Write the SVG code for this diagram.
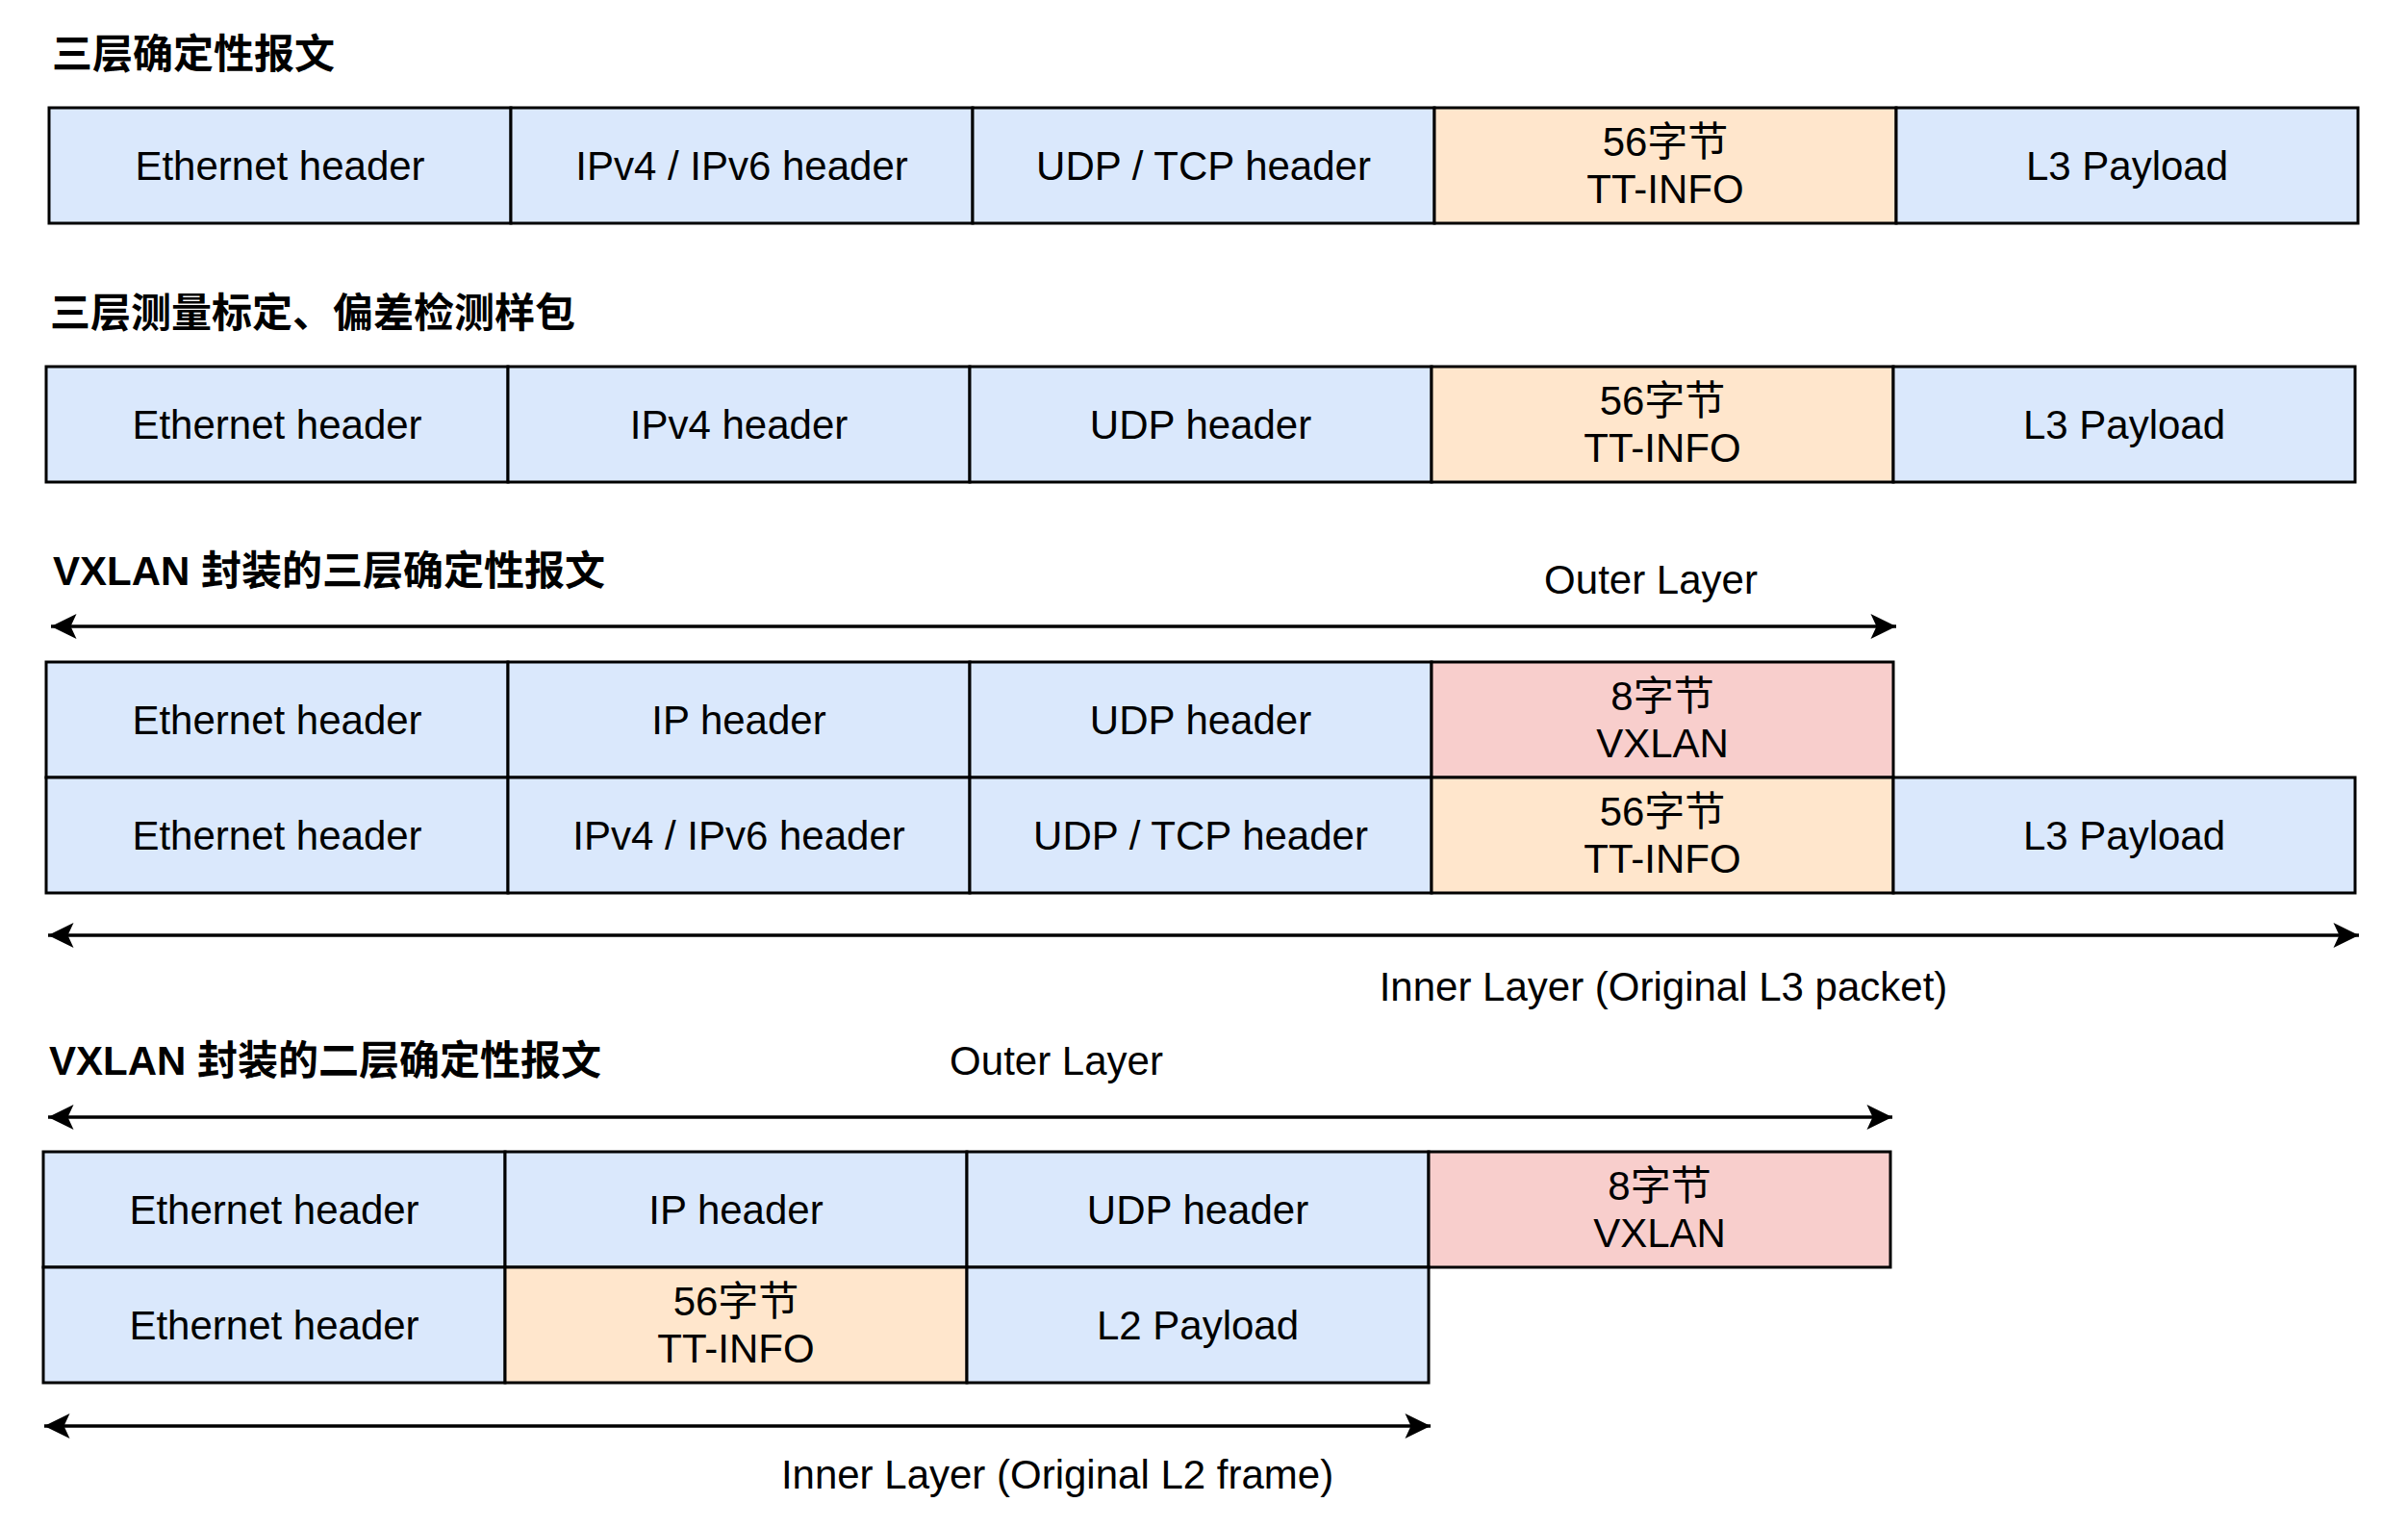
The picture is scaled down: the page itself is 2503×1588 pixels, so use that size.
<svg xmlns="http://www.w3.org/2000/svg" width="2503" height="1588" viewBox="0 0 2503 1588">
<style>
.t{font-family:"Liberation Sans","Noto Sans CJK SC",sans-serif;font-size:42px;fill:#000;text-anchor:middle}
.h{font-family:"Liberation Sans","Noto Sans CJK SC",sans-serif;font-size:42px;font-weight:bold;fill:#000}
.b{fill:#dae8fc;stroke:#000;stroke-width:3}
.o{fill:#ffe6cc;stroke:#000;stroke-width:3}
.p{fill:#f8cecc;stroke:#000;stroke-width:3}
.ln{stroke:#000;stroke-width:3.5;fill:none;marker-start:url(#ah);marker-end:url(#ah)}
</style>
<defs>
<marker id="ah" markerUnits="userSpaceOnUse" viewBox="-28 -14 30 28" refX="0" refY="0" markerWidth="30" markerHeight="28" orient="auto-start-reverse">
<path d="M0,0 L-26.5,-13 L-20.5,0 L-26.5,13 Z" fill="#000"/>
</marker>
</defs>
<rect width="2503" height="1588" fill="#fff"/>

<g id="titles">
<text class="h" x="54" y="71">三层确定性报文</text>
<text class="h" x="52" y="340">三层测量标定、偏差检测样包</text>
<text class="h" x="55" y="608">VXLAN 封装的三层确定性报文</text>
<text class="h" x="51" y="1117">VXLAN 封装的二层确定性报文</text>
</g>

<g id="packet1">
<g id="p1-eth"><rect class="b" x="51" y="112" width="480" height="120"/><text class="t" x="291" y="187">Ethernet header</text></g>
<g id="p1-ip"><rect class="b" x="531" y="112" width="480" height="120"/><text class="t" x="771" y="187">IPv4 / IPv6 header</text></g>
<g id="p1-udp"><rect class="b" x="1011" y="112" width="480" height="120"/><text class="t" x="1251" y="187">UDP / TCP header</text></g>
<g id="p1-tt"><rect class="o" x="1491" y="112" width="480" height="120"/><text class="t" x="1731" y="162">56字节</text><text class="t" x="1731" y="211">TT-INFO</text></g>
<g id="p1-pl"><rect class="b" x="1971" y="112" width="480" height="120"/><text class="t" x="2211" y="187">L3 Payload</text></g>
</g>

<g id="packet2">
<g id="p2-eth"><rect class="b" x="48" y="381" width="480" height="120"/><text class="t" x="288" y="456">Ethernet header</text></g>
<g id="p2-ip"><rect class="b" x="528" y="381" width="480" height="120"/><text class="t" x="768" y="456">IPv4 header</text></g>
<g id="p2-udp"><rect class="b" x="1008" y="381" width="480" height="120"/><text class="t" x="1248" y="456">UDP header</text></g>
<g id="p2-tt"><rect class="o" x="1488" y="381" width="480" height="120"/><text class="t" x="1728" y="431">56字节</text><text class="t" x="1728" y="480">TT-INFO</text></g>
<g id="p2-pl"><rect class="b" x="1968" y="381" width="480" height="120"/><text class="t" x="2208" y="456">L3 Payload</text></g>
</g>

<g id="packet3">
<g id="p3-oeth"><rect class="b" x="48" y="688" width="480" height="120"/><text class="t" x="288" y="763">Ethernet header</text></g>
<g id="p3-oip"><rect class="b" x="528" y="688" width="480" height="120"/><text class="t" x="768" y="763">IP header</text></g>
<g id="p3-oudp"><rect class="b" x="1008" y="688" width="480" height="120"/><text class="t" x="1248" y="763">UDP header</text></g>
<g id="p3-vx"><rect class="p" x="1488" y="688" width="480" height="120"/><text class="t" x="1728" y="738">8字节</text><text class="t" x="1728" y="787">VXLAN</text></g>
<g id="p3-eth"><rect class="b" x="48" y="808" width="480" height="120"/><text class="t" x="288" y="883">Ethernet header</text></g>
<g id="p3-ip"><rect class="b" x="528" y="808" width="480" height="120"/><text class="t" x="768" y="883">IPv4 / IPv6 header</text></g>
<g id="p3-udp"><rect class="b" x="1008" y="808" width="480" height="120"/><text class="t" x="1248" y="883">UDP / TCP header</text></g>
<g id="p3-tt"><rect class="o" x="1488" y="808" width="480" height="120"/><text class="t" x="1728" y="858">56字节</text><text class="t" x="1728" y="907">TT-INFO</text></g>
<g id="p3-pl"><rect class="b" x="1968" y="808" width="480" height="120"/><text class="t" x="2208" y="883">L3 Payload</text></g>
</g>

<g id="packet4">
<g id="p4-oeth"><rect class="b" x="45" y="1197" width="480" height="120"/><text class="t" x="285" y="1272">Ethernet header</text></g>
<g id="p4-oip"><rect class="b" x="525" y="1197" width="480" height="120"/><text class="t" x="765" y="1272">IP header</text></g>
<g id="p4-oudp"><rect class="b" x="1005" y="1197" width="480" height="120"/><text class="t" x="1245" y="1272">UDP header</text></g>
<g id="p4-vx"><rect class="p" x="1485" y="1197" width="480" height="120"/><text class="t" x="1725" y="1247">8字节</text><text class="t" x="1725" y="1296">VXLAN</text></g>
<g id="p4-eth"><rect class="b" x="45" y="1317" width="480" height="120"/><text class="t" x="285" y="1392">Ethernet header</text></g>
<g id="p4-tt"><rect class="o" x="525" y="1317" width="480" height="120"/><text class="t" x="765" y="1367">56字节</text><text class="t" x="765" y="1416">TT-INFO</text></g>
<g id="p4-pl"><rect class="b" x="1005" y="1317" width="480" height="120"/><text class="t" x="1245" y="1392">L2 Payload</text></g>
</g>

<g id="connectors">
<line class="ln" x1="53" y1="651" x2="1971" y2="651"/>
<line class="ln" x1="50" y1="972" x2="2452" y2="972"/>
<line class="ln" x1="50" y1="1161" x2="1967" y2="1161"/>
<line class="ln" x1="46" y1="1482" x2="1487" y2="1482"/>
</g>

<g id="labels">
<text class="t" x="1716" y="617">Outer Layer</text>
<text class="t" x="1729" y="1040">Inner Layer (Original L3 packet)</text>
<text class="t" x="1098" y="1117">Outer Layer</text>
<text class="t" x="1099" y="1547">Inner Layer (Original L2 frame)</text>
</g>
</svg>
